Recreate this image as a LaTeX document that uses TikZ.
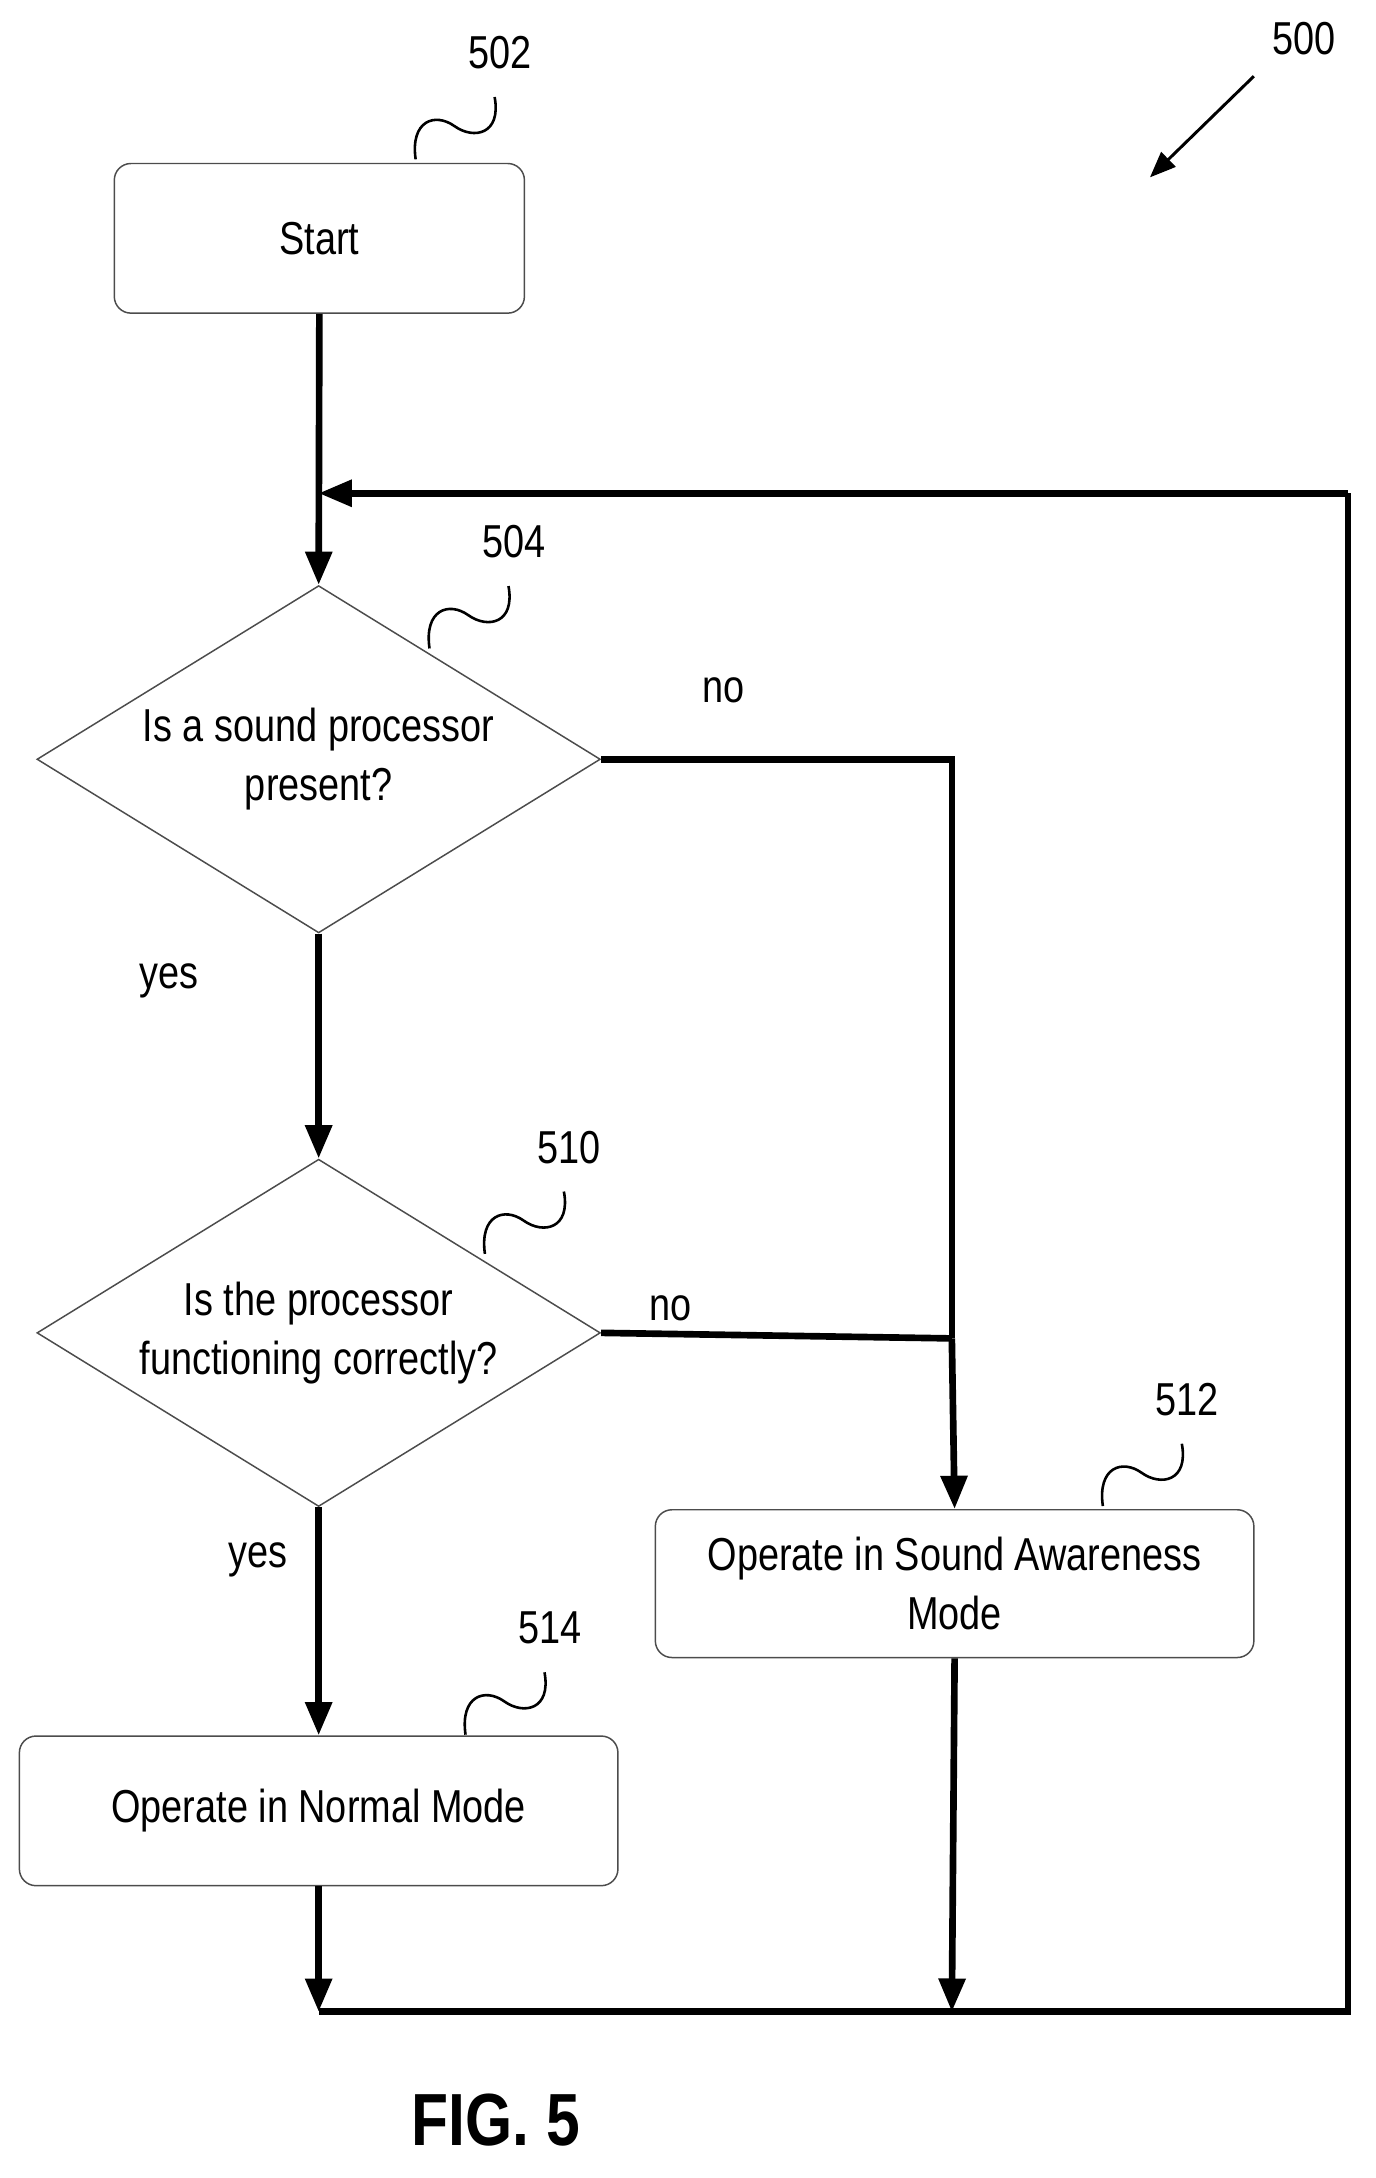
\documentclass[tikz,border=0pt]{standalone}
\usepackage{fontspec}
\setmainfont{Liberation Sans}[FakeStretch=0.82]
\usetikzlibrary{shapes.geometric,arrows.meta}
\begin{document}
\begin{tikzpicture}[x=0.75pt,y=-0.75pt,
  box/.style={draw=black!70,line width=0.8pt,rounded corners=9pt,align=center,font=\fontsize{25}{32}\selectfont},
  dia/.style={draw=black!70,line width=0.8pt,diamond,aspect=1.62,inner sep=0pt,align=center,font=\fontsize{25}{32}\selectfont,minimum width=305pt,minimum height=188pt},
  flow/.style={line width=3.6pt,-{Triangle[length=18pt,width=14pt]}},
  line/.style={line width=3.6pt},
  lbl/.style={font=\fontsize{25}{30}\selectfont},
  sq/.style={line width=1.4pt}]
\useasboundingbox (0,0) rectangle (993,1572);
\node[box,minimum width=222pt,minimum height=81pt] (start) at (230.5,172) {Start};
\node[dia] (d1) at (230,548) {Is a sound processor\\present?};
\node[dia] (d2) at (230,962) {Is the processor\\functioning correctly?};
\node[box,minimum width=324pt,minimum height=81pt] (n514) at (230,1307) {Operate in Normal Mode};
\node[box,minimum width=324pt,minimum height=80pt] (n512) at (689,1143) {Operate in Sound Awareness\\Mode};
\coordinate (j1) at (230,356);
\coordinate (r1) at (973,356);
\coordinate (r2) at (973,1452);
\coordinate (bl) at (230,1452);
\coordinate (bm) at (687,1452);
\coordinate (c1) at (687,548);
\coordinate (c2) at (687,966);
\draw[flow] (start.south) -- (d1.north);
\draw[flow] (d1.south) -- (d2.north);
\draw[flow] (d2.south) -- (n514.north);
\draw[line] (d1.east) -- (c1) -- (c2);
\draw[flow] (c2) -- (n512.north);
\draw[line] (d2.east) -- (c2);
\draw[flow] (n514.south) -- (bl);
\draw[flow] (n512.south) -- (bm);
\draw[line] (bl) -- (r2) -- (r1);
\draw[flow] (r1) -- (j1);
\node[lbl] (no1) at (522,498) {no};
\node[lbl] (yes1) at (122,708) {yes};
\node[lbl] (no2) at (484,944) {no};
\node[lbl] (yes2) at (186,1126) {yes};
\foreach \nm/\x/\y/\t in {a/300/115/502,b/310/468/504,c/350/905/510,d/796/1087/512,e/336/1252/514}{
  \draw[sq] (\x,\y) .. controls (\x-4,\y-28) and (\x+14,\y-34) .. (\x+28,\y-24) .. controls (\x+42,\y-14) and (\x+62,\y-18) .. (\x+57,\y-45);
  \node[lbl] (l\nm) at (\x+61,\y-77) {\t};
}
\node[lbl] (l500) at (941,28) {500};
\coordinate (a500) at (830,128);
\draw[line width=1.6pt,-{Triangle[length=14pt,width=11pt]}] (905,55) -- (a500);
\node[font=\bfseries\fontsize{40}{48}\selectfont] (fig) at (358,1530) {FIG. 5};
\end{tikzpicture}
\end{document}
